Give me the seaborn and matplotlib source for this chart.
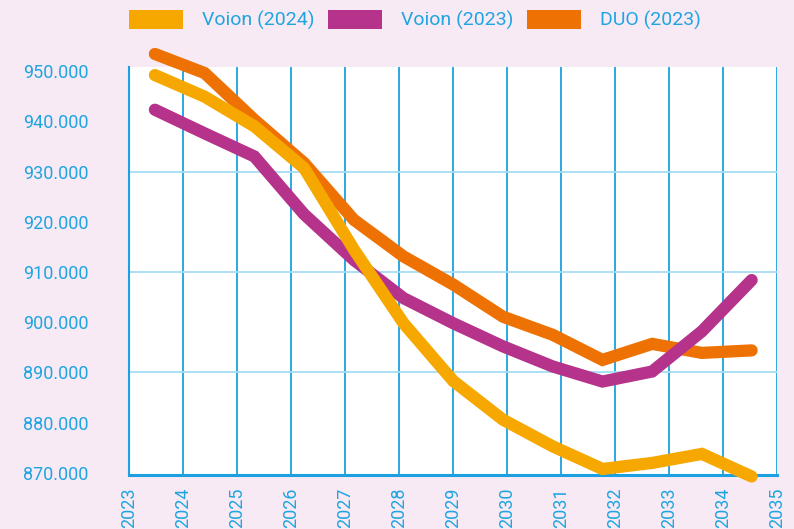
import numpy as np
import pandas as pd
import seaborn as sns
import matplotlib.pyplot as plt
from matplotlib.patches import Patch

# values in thousands
years = list(range(2023, 2036))
voion_2024 = [949.2, 944.9, 939.0, 930.7, 914.5, 899.8, 888.3, 880.6, 875.3, 870.8, 872.0, 873.8, 869.3]
voion_2023 = [942.3, 937.6, 933.0, 921.5, 912.4, 904.8, 899.8, 895.2, 891.2, 888.2, 890.2, 898.2, 908.4]
duo_2023 = [953.4, 949.6, 940.3, 931.7, 920.4, 913.1, 907.5, 901.1, 897.5, 892.5, 895.7, 893.9, 894.4]

series_names = ["Voion (2024)", "Voion (2023)", "DUO (2023)"]
colors = {"Voion (2024)": "#F6A800", "Voion (2023)": "#B5338A", "DUO (2023)": "#EE7203"}
y_ticks = [870, 880, 890, 900, 910, 920, 930, 940, 950]
h_grid = [890, 910, 930]

TEXT = "#1FA5E0"
BLUE = "#1BA1E2"
PINK = "#F7EAF4"


def build_frame() -> pd.DataFrame:
    rows = []
    for name, vals in zip(series_names, [voion_2024, voion_2023, duo_2023]):
        for y, v in zip(years, vals):
            rows.append({"jaar": y, "waarde": v, "reeks": name})
    return pd.DataFrame(rows)


def main() -> None:
    sns.set_style("white")
    plt.rcParams["font.family"] = ["Roboto", "DejaVu Sans"]

    df = build_frame()
    fig = plt.figure(figsize=(7.94, 5.29), dpi=100, facecolor=PINK)
    ax = fig.add_axes([0.1625, 0.1021, 0.8161, 0.7712])
    ax.set_facecolor("white")

    # draw order: DUO at the back, Voion (2024) on top
    sns.lineplot(data=df, x="jaar", y="waarde", hue="reeks",
                 hue_order=series_names[::-1], palette=colors,
                 linewidth=8.8, legend=False, ax=ax)
    for line in ax.lines:
        line.set_solid_capstyle("round")
        line.set_solid_joinstyle("miter")
        line.set_clip_on(False)
        line.set_zorder(5)

    x0, x1 = 2022.48, 2035.51
    ax.set_xlim(x0, x1)
    ax.set_ylim(869.6, 950.8)
    ax.set_xticks(np.linspace(x0, x1, len(years)))
    ax.set_xticklabels([str(y) for y in years], rotation=90)
    ax.set_yticks(y_ticks)
    ax.set_yticklabels([f"{v}.000" for v in y_ticks])
    ax.set_xlabel("")
    ax.set_ylabel("")

    ax.grid(False)
    for xv in ax.get_xticks():
        ax.axvline(xv, color=BLUE, lw=1.3, zorder=1)
    for g in h_grid:
        ax.axhline(g, color="#A6DDF4", lw=1.3, zorder=1)

    for side in ["top", "right"]:
        ax.spines[side].set_visible(False)
    ax.spines["left"].set_color(BLUE)
    ax.spines["left"].set_linewidth(1.5)
    ax.spines["bottom"].set_color(BLUE)
    ax.spines["bottom"].set_linewidth(2.2)

    ax.tick_params(axis="both", length=0, labelsize=13, labelcolor=TEXT)
    ax.tick_params(axis="y", pad=29)
    ax.tick_params(axis="x", pad=9)

    handles = [Patch(facecolor=colors[n], edgecolor="none", label=n) for n in series_names]
    leg = fig.legend(handles=handles, loc="center left", bbox_to_anchor=(0.14, 0.962),
                     ncol=3, frameon=False, fontsize=14, handlelength=2.8,
                     handleheight=1.1, handletextpad=0.95, columnspacing=0.7)
    for t in leg.get_texts():
        t.set_color(TEXT)

    fig.savefig("out.png", dpi=100, facecolor=PINK)


if __name__ == "__main__":
    main()
